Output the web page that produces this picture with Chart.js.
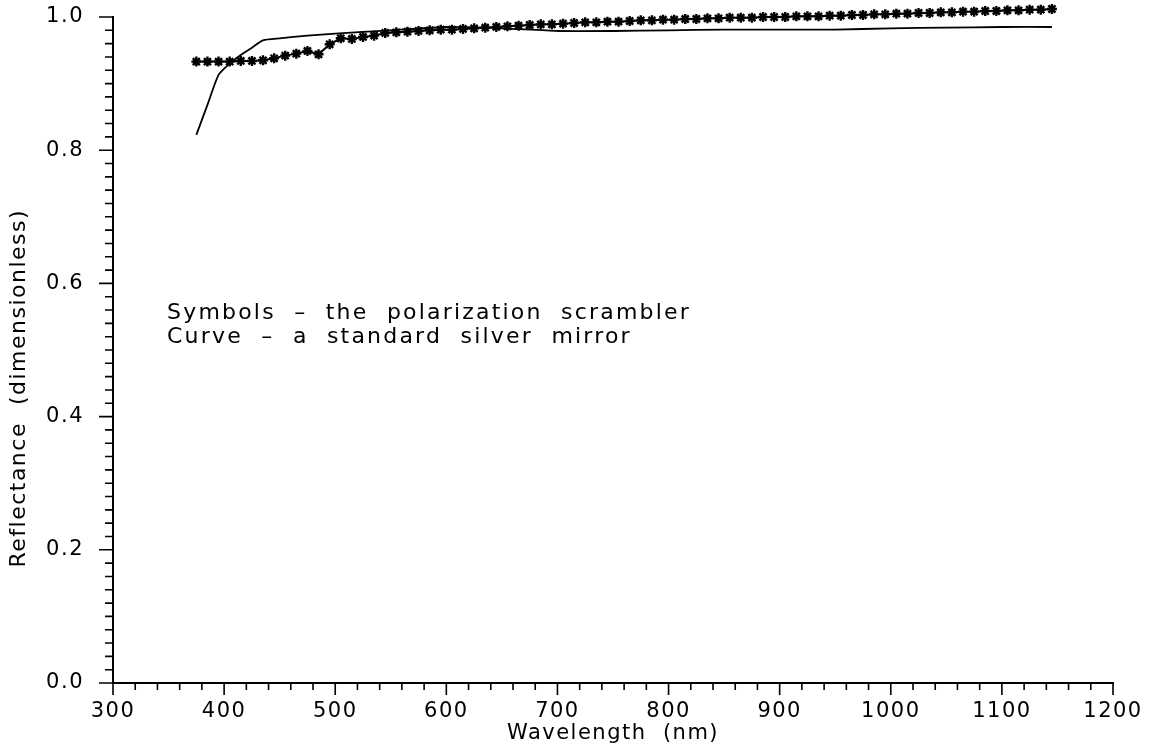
<!DOCTYPE html>
<html>
<head>
<meta charset="utf-8">
<script src="https://cdn.jsdelivr.net/npm/chart.js@4/dist/chart.umd.min.js"></script>
<style>
  html, body { margin: 0; padding: 0; background: #fff; }
</style>
</head>
<body>
<canvas id="refl" width="1151" height="752"></canvas>
<script>
// polarization scrambler, measured every 10 nm
const symbolWavelengths = [375, 385, 395, 405, 415, 425, 435, 445, 455, 465, 475, 485, 495, 505, 515, 525, 535, 545, 555, 565,
  575, 585, 595, 605, 615, 625, 635, 645, 655, 665, 675, 685, 695, 705, 715, 725, 735, 745, 755, 765,
  775, 785, 795, 805, 815, 825, 835, 845, 855, 865, 875, 885, 895, 905, 915, 925, 935, 945, 955, 965,
  975, 985, 995, 1005, 1015, 1025, 1035, 1045, 1055, 1065, 1075, 1085, 1095, 1105, 1115, 1125, 1135, 1145];
const symbolValues = [0.933, 0.933, 0.933, 0.933, 0.934, 0.934, 0.935, 0.938, 0.942, 0.945, 0.949, 0.944, 0.959, 0.968, 0.967, 0.970, 0.972, 0.976, 0.977, 0.978,
  0.979, 0.980, 0.981, 0.981, 0.982, 0.983, 0.984, 0.985, 0.986, 0.987, 0.988, 0.989, 0.989, 0.990, 0.991, 0.992, 0.992, 0.993, 0.993, 0.994,
  0.995, 0.995, 0.996, 0.996, 0.997, 0.997, 0.998, 0.998, 0.999, 0.999, 0.999, 1.000, 1.000, 1.000, 1.001, 1.001, 1.001, 1.002, 1.002, 1.003,
  1.003, 1.004, 1.004, 1.005, 1.005, 1.006, 1.006, 1.007, 1.007, 1.008, 1.008, 1.009, 1.009, 1.010, 1.010, 1.011, 1.011, 1.012];

// standard silver mirror
const curveWavelengths = [375, 385, 395, 405, 415, 425, 435, 450, 475, 500, 550, 600, 650, 700, 750, 800, 850, 900, 950, 1000, 1050, 1100, 1145];
const curveValues = [0.823, 0.868, 0.913, 0.930, 0.943, 0.954, 0.965, 0.968, 0.972, 0.975, 0.980, 0.985, 0.983, 0.979, 0.979, 0.980, 0.981, 0.981, 0.981, 0.983, 0.984, 0.985, 0.985];

const xTickLabels = [300, 400, 500, 600, 700, 800, 900, 1000, 1100, 1200];
const yTickLabels = ['0.0', '0.2', '0.4', '0.6', '0.8', '1.0'];
const noteLines = ['Symbols  \u2013  the  polarization  scrambler', 'Curve  \u2013  a  standard  silver  mirror'];

const FONT = 'DejaVu Sans';

// the plotter lettering is wide, so space the glyphs out a bit
const spacing = {
  id: 'spacing',
  beforeDraw(chart) { chart.ctx.letterSpacing = '1.5px'; },
  afterDraw(chart) { chart.ctx.letterSpacing = '0px'; }
};

// major + minor tick marks, drawn outward like the old plotter output
const tickMarks = {
  id: 'tickMarks',
  afterDraw(chart) {
    const ctx = chart.ctx;
    const xs = chart.scales.x, ys = chart.scales.y;
    ctx.save();
    ctx.strokeStyle = '#000';
    ctx.lineWidth = 1.6;
    ctx.beginPath();
    for (let v = 300; v <= 1200; v += 20) {
      const px = xs.getPixelForValue(v);
      const len = v % 100 === 0 ? 12 : 7;
      ctx.moveTo(px, xs.top);
      ctx.lineTo(px, xs.top + len);
    }
    for (let i = 0; i <= 50; i++) {
      const py = ys.getPixelForValue(i * 0.02);
      const len = i % 10 === 0 ? 14 : 8;
      ctx.moveTo(ys.right, py);
      ctx.lineTo(ys.right - len, py);
    }
    ctx.stroke();

    // the note in the middle of the plot
    ctx.fillStyle = '#000';
    ctx.font = '22px ' + FONT;
    ctx.letterSpacing = '2.2px';
    ctx.textBaseline = 'middle';
    ctx.textAlign = 'left';
    noteLines.forEach((t, i) => ctx.fillText(t, 167, 313 + i * 24));
    ctx.restore();
  }
};

const ctx = document.getElementById('refl').getContext('2d');
const reflChart = new Chart(ctx, {
  type: 'line',
  data: {
    datasets: [{
      label: 'Symbols',
      data: symbolWavelengths.map((w, i) => ({ x: w, y: symbolValues[i] })),
      borderColor: '#000',
      backgroundColor: '#000',
      borderWidth: 2,
      pointStyle: 'star',
      pointRadius: 5,
      // big hover radius widens the in-area margin so the marks above 1.0 still get drawn
      pointHoverRadius: 14,
      pointBorderWidth: 2.4,
      tension: 0,
      clip: false
    }, {
      label: 'Curve',
      data: curveWavelengths.map((w, i) => ({ x: w, y: curveValues[i] })),
      borderColor: '#000',
      borderWidth: 1.8,
      pointRadius: 0,
      tension: 0.2,
      clip: false
    }]
  },
  options: {
    responsive: false,
    devicePixelRatio: 1,
    animation: false,
    events: [],
    layout: { padding: { left: 0, top: 17, right: 38, bottom: 0 } },
    plugins: {
      legend: { display: false },
      tooltip: { enabled: false }
    },
    scales: {
      x: {
        type: 'linear',
        min: 300,
        max: 1200,
        afterFit: (s) => { s.height = 69; },
        afterBuildTicks: (s) => { s.ticks = xTickLabels.map(v => ({ value: v })); },
        grid: { display: false, tickLength: 14 },
        border: { display: true, color: '#000', width: 2 },
        ticks: {
          color: '#000',
          padding: 2,
          maxRotation: 0,
          font: { family: FONT, size: 21 },
          callback: (v) => String(v)
        },
        title: {
          display: true,
          text: 'Wavelength  (nm)',
          color: '#000',
          font: { family: FONT, size: 21 },
          padding: { top: 0, bottom: 6 }
        }
      },
      y: {
        min: 0,
        max: 1,
        afterFit: (s) => { s.width = 113; },
        afterBuildTicks: (s) => { s.ticks = yTickLabels.map(t => ({ value: parseFloat(t) })); },
        grid: { display: false, tickLength: 27 },
        border: { display: true, color: '#000', width: 2 },
        ticks: {
          color: '#000',
          padding: 2,
          font: { family: FONT, size: 21 },
          callback: (v) => v.toFixed(1)
        },
        title: {
          display: true,
          // trailing blanks push the rotated text down to where the original sits
          text: 'Reflectance  (dimensionless)\u00a0\u00a0\u00a0\u00a0\u00a0\u00a0\u00a0\u00a0\u00a0',
          color: '#000',
          font: { family: FONT, size: 22 },
          padding: { top: 6, bottom: 0 }
        }
      }
    }
  },
  plugins: [spacing, tickMarks]
});
</script>
</body>
</html>
